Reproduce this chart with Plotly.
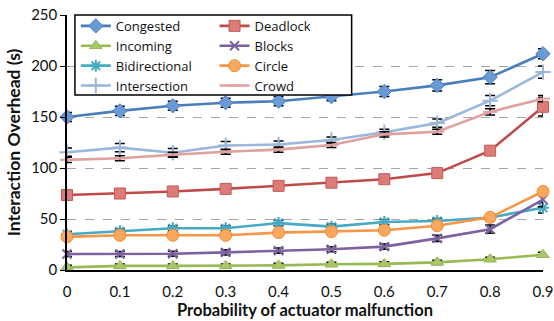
import plotly.graph_objects as go

x_vals = [0, 0.1, 0.2, 0.3, 0.4, 0.5, 0.6, 0.7, 0.8, 0.9]
x_ticktext = ["0", "0.1", "0.2", "0.3", "0.4", "0.5", "0.6", "0.7", "0.8", "0.9"]

congested = [150, 156, 161, 164, 165.5, 170, 175, 181, 189, 212]
congested_err = [4.5, 4.5, 4.5, 4.5, 4.5, 4, 5, 5.5, 6.5, 5]
incoming = [2.6, 4, 4, 4, 4.5, 5.6, 6, 7.5, 10.5, 15]
incoming_err = [2, 2, 2, 2, 2, 2, 2, 2, 2, 2.5]
bidirectional = [35, 38, 41, 41, 46, 42.5, 47, 48, 51.5, 61]
bidirectional_err = [2.5, 2.5, 2.5, 2.5, 2.5, 2.5, 2.5, 2.5, 2.5, 5]
intersection = [115.5, 120, 115, 122, 123, 127.5, 135, 144, 166, 194]
intersection_err = [4, 4, 4, 4, 3.5, 3, 3, 4, 5, 6]
deadlock = [73.5, 75, 77, 79.5, 82.5, 85.6, 89, 95, 117, 160]
deadlock_err = [2.5, 2.5, 2.5, 2.5, 2.5, 2.5, 2.5, 2.5, 4, 9]
blocks = [15.7, 15.7, 16, 17.3, 19, 20.3, 22.9, 31, 40, 69]
blocks_err = [2.5, 2.5, 2.5, 2.5, 2.5, 2.5, 2.5, 3, 4, 7]
circle = [32.5, 34, 34, 34, 36.6, 37.6, 39, 43.4, 51.6, 77]
circle_err = [1.5, 1.5, 1.5, 1.5, 1.5, 1.5, 1.5, 1.5, 1.5, 1.5]
crowd = [108, 109.5, 113, 116, 118, 122.5, 133, 135.6, 155, 168]
crowd_err = [2.5, 2.5, 2.5, 2.5, 2.5, 2.5, 2.5, 2.5, 3, 3]

FONT = "Lato"
LEG_FONT = "Open Sans"

series = [
    # name, values, errors, line color, marker symbol, marker fill, marker line, size, legend
    ("Congested", congested, congested_err, "#4A7EBB", "diamond", "#6A9AD6", "#4A7EBB", 11, "legend"),
    ("Incoming", incoming, incoming_err, "#98B954", "triangle-up", "#A9C76A", "#98B954", 11, "legend"),
    ("Bidirectional", bidirectional, bidirectional_err, "#46AAC4", "asterisk-open", "#46AAC4", "#46AAC4", 10, "legend"),
    ("Intersection", intersection, intersection_err, "#9BB7DB", "cross-thin-open", "#9BB7DB", "#9BB7DB", 11, "legend"),
    ("Deadlock", deadlock, deadlock_err, "#BE4B48", "square", "#DB7C78", "#C55A57", 11, "legend2"),
    ("Blocks", blocks, blocks_err, "#7D60A0", "x-thin-open", "#7D60A0", "#7D60A0", 9, "legend2"),
    ("Circle", circle, circle_err, "#F79646", "circle", "#F9A85E", "#F08A34", 12, "legend2"),
    ("Crowd", crowd, crowd_err, "#E0A09E", "line-ew-open", "#E0A09E", "#E0A09E", 10, "legend2"),
]

fig = go.Figure()
for name, vals, errs, lc, sym, mfill, mline, msize, leg in series:
    fig.add_trace(go.Scatter(
        x=x_vals, y=vals, name=name, mode="lines+markers",
        line=dict(color=lc, width=2.6),
        marker=dict(symbol=sym, size=msize, color=mfill,
                    line=dict(color=mline, width=2 if "open" in sym else 1)),
        error_y=dict(type="data", array=errs, visible=True, color="#000000",
                     thickness=1.5, width=5),
        cliponaxis=False,
        legend=leg,
    ))

fig.update_layout(
    width=554, height=321,
    margin=dict(l=67, r=11, t=15, b=51, autoexpand=False),
    paper_bgcolor="white", plot_bgcolor="white",
    font=dict(family=FONT, size=15, color="#111111"),
    showlegend=True,
    legend=dict(x=0.0185, y=1.016, xanchor="left", yanchor="top",
                bgcolor="rgba(0,0,0,0)", font=dict(family=LEG_FONT, size=13, color="#111111"),
                itemwidth=30, tracegroupgap=0),
    legend2=dict(x=0.310, y=1.016, xanchor="left", yanchor="top",
                 bgcolor="rgba(0,0,0,0)", font=dict(family=LEG_FONT, size=13, color="#111111"),
                 itemwidth=30, tracegroupgap=0),
    shapes=[dict(type="rect", xref="paper", yref="paper",
                 x0=0.0167, x1=0.598, y0=0.686, y1=1.0,
                 line=dict(color="#000000", width=1.5), fillcolor="white", layer="above")],
)

fig.update_xaxes(
    range=[0, 0.9], tickvals=x_vals, ticktext=x_ticktext, automargin=False,
    showline=True, linecolor="#000000", linewidth=1.5,
    showgrid=False, zeroline=False, ticks="outside", ticklen=7, tickcolor="rgba(0,0,0,0)",
    tickfont=dict(family=FONT, size=15, color="#111111"),
    title=dict(text="<b>Probability of actuator malfunction</b>",
               font=dict(family=FONT, size=16.5, color="#111111"), standoff=6),
)
fig.update_yaxes(
    range=[0, 250], dtick=50, automargin=False,
    showline=True, linecolor="#000000", linewidth=1.5,
    showgrid=True, gridcolor="#A6A6A6", gridwidth=1.3, griddash="dash",
    zeroline=False, ticks="outside", ticklen=5, tickcolor="#000000",
    tickfont=dict(family=FONT, size=15, color="#111111"),
    title=dict(text="<b>Interaction Overhead (s)</b>",
               font=dict(family=FONT, size=17.5, color="#111111"), standoff=6),
)

fig.write_html("out.html", config={"displayModeBar": False},
               post_script="document.body.style.margin='0';")
